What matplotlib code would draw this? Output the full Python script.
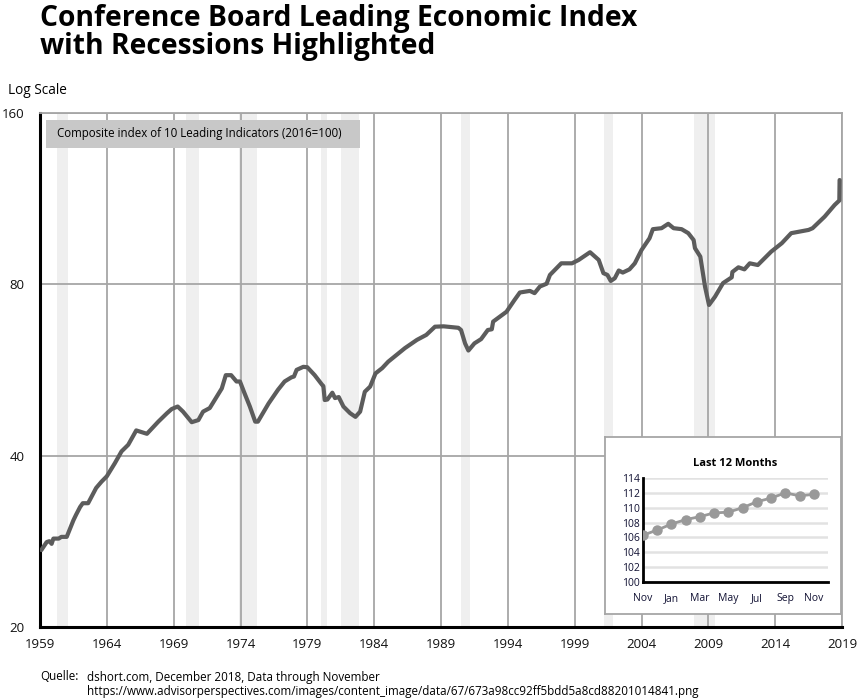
import numpy as np
import matplotlib.pyplot as plt
from matplotlib.patches import Rectangle

plt.rcParams['font.family'] = ['Open Sans', 'DejaVu Sans']

# Leading Economic Index (log scale)
years = [1959.1, 1959.5, 1959.7, 1959.87, 1960.0, 1960.4, 1960.6, 1961.0, 1961.5, 1961.7,
         1962.0, 1962.2, 1962.6, 1963.2, 1963.6, 1964.0, 1964.6, 1965.1, 1965.6, 1966.2,
         1967.0, 1967.85, 1968.5, 1968.85, 1969.3, 1969.7, 1970.35, 1970.85, 1971.2, 1971.7,
         1972.0, 1972.6, 1972.9, 1973.3, 1973.7, 1973.96, 1974.3, 1974.7, 1975.1, 1975.3,
         1976.1, 1976.8, 1977.3, 1977.8, 1978.0, 1978.2, 1978.7, 1979.0, 1979.55, 1980.1,
         1980.2, 1980.3, 1980.5, 1980.87, 1981.07, 1981.35, 1981.7, 1982.2, 1982.6, 1982.95,
         1983.3, 1983.7, 1984.1, 1984.6, 1985.05, 1985.4, 1986.3, 1987.2, 1987.9, 1988.55,
         1989.2, 1990.3, 1990.5, 1990.8, 1991.05, 1991.5, 1992.0, 1992.5, 1992.8, 1992.9,
         1993.9, 1994.5, 1994.9, 1995.65, 1996.0, 1996.4, 1996.9, 1997.15, 1998.0, 1998.8,
         1999.3, 2000.15, 2000.8, 2001.15, 2001.45, 2001.7, 2002.0, 2002.3, 2002.6, 2003.1,
         2003.5, 2004.0, 2004.6, 2004.85, 2005.5, 2006.0, 2006.4, 2007.0, 2007.5, 2007.9,
         2008.0, 2008.4, 2008.75, 2009.05, 2009.5, 2010.1, 2010.75, 2010.8, 2011.25, 2011.7,
         2012.1, 2012.7, 2013.7, 2014.5, 2015.2, 2016.5, 2016.8, 2017.7, 2018.45, 2018.8,
         2018.82]
lei = [27.3, 28.2, 28.3, 28.0, 28.6, 28.6, 28.8, 28.8, 30.8, 31.5,
       32.5, 33.0, 33.0, 35.1, 36.0, 36.8, 38.8, 40.7, 41.8, 44.3,
       43.7, 45.9, 47.5, 48.3, 48.8, 47.8, 45.8, 46.2, 47.8, 48.5,
       49.8, 52.5, 55.4, 55.4, 54.0, 54.0, 51.5, 48.8, 45.9, 45.9,
       49.4, 52.2, 54.0, 54.9, 55.1, 56.6, 57.3, 57.2, 55.4, 53.3,
       53.0, 50.1, 50.2, 51.6, 50.5, 50.7, 48.8, 47.5, 46.8, 47.8,
       51.8, 52.9, 55.8, 57.0, 58.5, 59.4, 61.8, 63.9, 65.2, 67.4,
       67.5, 67.1, 66.5, 63.0, 61.2, 63.0, 64.1, 66.5, 66.7, 68.8,
       71.6, 75.1, 77.4, 77.9, 77.2, 79.3, 80.2, 83.1, 87.1, 87.1,
       88.3, 91.1, 88.3, 83.7, 83.1, 81.1, 82.0, 84.6, 83.9, 85.0,
       87.1, 91.9, 96.4, 100.0, 100.4, 102.2, 100.4, 100.0, 98.4, 95.7,
       92.6, 89.5, 79.3, 73.6, 76.1, 80.4, 82.3, 84.1, 85.7, 85.0,
       87.1, 86.5, 91.3, 94.5, 98.4, 99.7, 100.4, 105.2, 110.3, 112.3,
       122.0]

recessions = [(1960.3, 1961.1), (1969.9, 1970.9), (1973.9, 1975.2), (1980.0, 1980.5),
              (1981.5, 1982.9), (1990.5, 1991.2), (2001.2, 2001.9), (2007.9, 2009.5)]

# last 12 months inset
months = ['Nov', 'Dec', 'Jan', 'Feb', 'Mar', 'Apr', 'May', 'Jun', 'Jul', 'Aug', 'Sep', 'Oct', 'Nov']
last12 = [106.3, 107.0, 107.8, 108.4, 108.8, 109.3, 109.4, 110.0, 110.8, 111.3, 112.0, 111.6, 111.8]

xticks = list(range(1959, 2020, 5))
yticks = [20, 40, 80, 160]

fig = plt.figure(figsize=(8.65, 7.0), dpi=100)

ax = fig.add_axes([40 / 865, 73 / 700, 802 / 865, 514 / 700])
for a, b in recessions:
    ax.axvspan(a, b, color='#efefef', lw=0, zorder=0)
ax.plot(years, lei, color='#5c5c5c', lw=3.0, solid_joinstyle='round',
        solid_capstyle='round', zorder=3)
ax.set_yscale('log', base=2)
ax.set_xlim(1959, 2019)
ax.set_ylim(20, 160)
ax.set_yticks(yticks)
ax.set_yticklabels([str(t) for t in yticks])
ax.minorticks_off()
ax.set_xticks(xticks)
ax.grid(True, color='#a6a6a6', lw=1.3, zorder=1)
ax.set_axisbelow(True)
ax.tick_params(length=0, labelsize=9.5, colors='#111111')
ax.tick_params(axis='y', pad=11)
ax.tick_params(axis='x', pad=8)
for s in ['top', 'right']:
    ax.spines[s].set_color('#a6a6a6')
    ax.spines[s].set_linewidth(1.3)
for s in ['left', 'bottom']:
    ax.spines[s].set_color('black')
    ax.spines[s].set_linewidth(2.2)

# label box
ax.add_patch(Rectangle((6 / 802, 1 - 35 / 514), 314 / 802, 28 / 514, transform=ax.transAxes,
                       facecolor='#c8c8c8', edgecolor='none', zorder=4))
ax.text(17 / 802, 1 - 21 / 514, 'Composite index of 10 Leading Indicators (2016=100)',
        transform=ax.transAxes, fontsize=8.3, va='center', ha='left', zorder=5)

fig.text(40 / 865, 1 - 4 / 700, 'Conference Board Leading Economic Index\nwith Recessions Highlighted',
         fontsize=20.3, fontweight='bold', va='top', ha='left', linespacing=0.95)
fig.text(8 / 865, 1 - 90 / 700, 'Log Scale', fontsize=9.8, va='center', ha='left')
fig.text(40 / 865, 1 - 677 / 700, 'Quelle:', fontsize=8.4, va='center', ha='left')
fig.text(87 / 865, 1 - 677 / 700, 'dshort.com, December 2018, Data through November',
         fontsize=8.4, va='center', ha='left')
fig.text(87 / 865, 1 - 692 / 700,
         'https://www.advisorperspectives.com/images/content_image/data/67/673a98cc92ff5bdd5a8cd88201014841.png',
         fontsize=8.4, va='center', ha='left')

# inset box
box = fig.add_axes([605 / 865, 1 - 614 / 700, 236 / 865, 177 / 700])
box.set_xticks([])
box.set_yticks([])
box.set_facecolor('white')
for s in box.spines.values():
    s.set_color('#a6a6a6')
    s.set_linewidth(1.3)
box.set_zorder(5)

ins = fig.add_axes([643 / 865, 1 - 582 / 700, 185 / 865, 104 / 700])
ins.set_zorder(6)
ins.patch.set_alpha(0)
ins.plot(range(len(last12)), last12, color='#999999', lw=2, marker='o', ms=6.5,
         markerfacecolor='#999999', markeredgecolor='#999999', zorder=3)
ins.set_xlim(0, 13)
ins.set_ylim(100, 114)
ins.set_yticks(range(100, 115, 2))
ins.set_xticks(range(0, 13, 2))
ins.set_xticklabels(months[::2])
ins.grid(axis='y', color='#e2e2e2', lw=1.8)
ins.set_axisbelow(True)
ins.tick_params(length=0, labelsize=7.5, colors='#111133')
ins.tick_params(axis='y', pad=2)
ins.tick_params(axis='x', pad=8)
for s in ['top', 'right']:
    ins.spines[s].set_visible(False)
for s in ['left', 'bottom']:
    ins.spines[s].set_color('black')
    ins.spines[s].set_linewidth(2)
ins.set_title('Last 12 Months', fontsize=8, fontweight='bold', pad=9)

fig.savefig('out.png', dpi=100)
